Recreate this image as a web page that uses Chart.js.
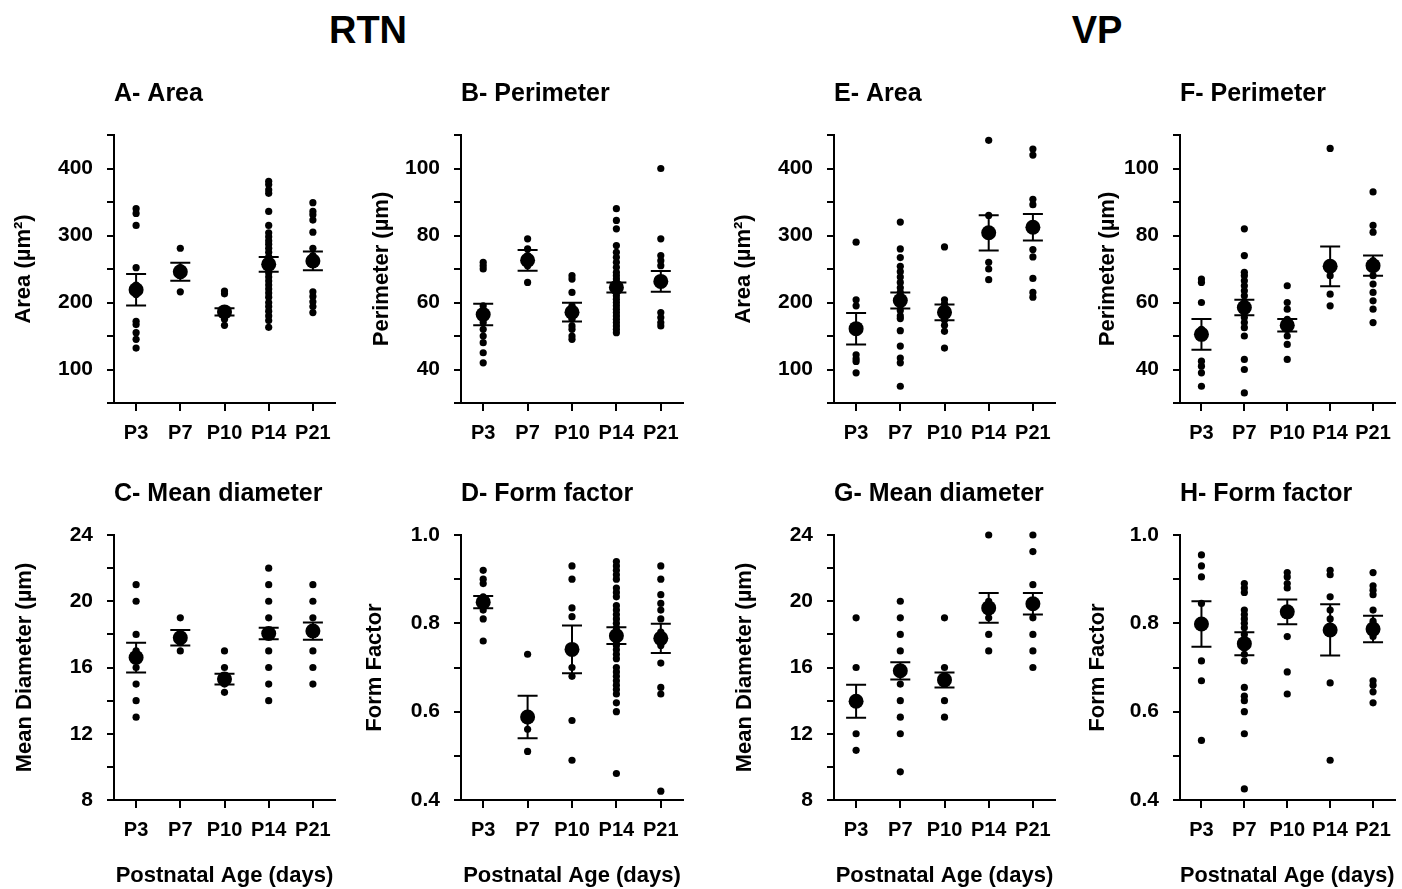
<!DOCTYPE html>
<html>
<head>
<meta charset="utf-8">
<script src="https://cdn.jsdelivr.net/npm/chart.js@4.4.1/dist/chart.umd.min.js"></script>
<style>
  html, body { margin: 0; padding: 0; background: #fff; overflow: hidden; }
  body { width: 1402px; height: 889px; position: relative; font-family: "Liberation Sans", Arial, sans-serif; }
  canvas { position: absolute; }
  .group { position: absolute; top: 11px; width: 200px; margin-left: -100px; text-align: center; font-weight: bold; font-size: 38px; line-height: 38px; color: #000; }
</style>
</head>
<body>
<div class="group" style="left:368px">RTN</div>
<div class="group" style="left:1097px">VP</div>

<canvas id="panel-a" width="345" height="380" style="left:0px;top:70px"></canvas>
<canvas id="panel-b" width="350" height="380" style="left:345px;top:70px"></canvas>
<canvas id="panel-e" width="370" height="380" style="left:695px;top:70px"></canvas>
<canvas id="panel-f" width="337" height="380" style="left:1065px;top:70px"></canvas>
<canvas id="panel-c" width="345" height="419" style="left:0px;top:470px"></canvas>
<canvas id="panel-d" width="350" height="419" style="left:345px;top:470px"></canvas>
<canvas id="panel-g" width="370" height="419" style="left:695px;top:470px"></canvas>
<canvas id="panel-h" width="337" height="419" style="left:1065px;top:470px"></canvas>

<script>
Chart.defaults.font.family = '"Liberation Sans", Arial, sans-serif';
Chart.defaults.color = "#000";

const ages = ["P3", "P7", "P10", "P14", "P21"];

// RTN - area (um2)
const rtnAreaCells = [
  [340, 333, 315, 252, 226, 212, 172, 167, 155, 145, 132],
  [281, 252, 240, 216],
  [217, 213, 190, 185, 180, 175, 166],
  [381, 376, 368, 363, 336, 315, 304, 298, 292, 287, 281, 275, 268, 262, 255, 250, 244, 238, 232, 226, 220, 214, 208, 200, 194, 187, 180, 173, 163],
  [349, 336, 331, 323, 305, 281, 270, 216, 209, 201, 194, 185],
];
const rtnAreaMean = [219, 246, 186, 257, 262];
const rtnAreaSem = [23.5, 13.5, 5.3, 11, 14];

// RTN - perimeter (um)
const rtnPerimCells = [
  [72, 71, 70, 59, 56, 54, 52, 50, 48, 45, 42],
  [79, 76, 74, 72, 71, 66],
  [68, 67, 63, 59, 57, 55, 53, 52, 50, 49],
  [88, 84.5, 82, 77, 75, 73.5, 72, 70.5, 69, 68, 67, 66, 65, 64, 63, 62, 61, 60, 59, 58, 57, 56, 55, 54, 53, 52, 51],
  [100, 79, 74, 72.5, 71, 66, 57, 55.5, 54, 53],
];
const rtnPerimMean = [56.4, 72.6, 57.1, 64.5, 66.3];
const rtnPerimSem = [3.2, 3.1, 2.8, 1.5, 3.1];

// RTN - mean diameter (um)
const rtnDiamCells = [
  [21, 20, 18, 17, 16, 15, 14, 13],
  [19, 18, 17.5, 17],
  [17, 16, 15.5, 15, 14.5],
  [22, 21, 20, 19, 18, 17, 16, 15, 14],
  [21, 20, 19, 18, 17, 16, 15],
];
const rtnDiamMean = [16.6, 17.8, 15.3, 18.05, 18.2];
const rtnDiamSem = [0.9, 0.47, 0.33, 0.35, 0.52];

// RTN - form factor
const rtnFormCells = [
  [0.92, 0.9, 0.89, 0.86, 0.85, 0.84, 0.83, 0.81, 0.76],
  [0.73, 0.56, 0.51],
  [0.93, 0.9, 0.835, 0.815, 0.74, 0.7, 0.68, 0.58, 0.49],
  [0.94, 0.93, 0.92, 0.91, 0.9, 0.88, 0.87, 0.86, 0.84, 0.83, 0.82, 0.81, 0.8, 0.79, 0.78, 0.77, 0.76, 0.75, 0.74, 0.73, 0.72, 0.7, 0.69, 0.68, 0.67, 0.66, 0.65, 0.64, 0.62, 0.6, 0.46],
  [0.93, 0.9, 0.865, 0.845, 0.83, 0.81, 0.78, 0.76, 0.75, 0.71, 0.655, 0.64, 0.42],
];
const rtnFormMean = [0.848, 0.588, 0.741, 0.772, 0.766];
const rtnFormSem = [0.014, 0.048, 0.054, 0.019, 0.033];

// VP - area (um2)
const vpAreaCells = [
  [290, 204, 195, 160, 122, 116, 112, 95],
  [320, 280, 267, 254, 246, 238, 230, 222, 215, 205, 196, 188, 180, 176, 158, 135, 117, 110, 75],
  [283, 204, 198, 190, 182, 174, 166, 157, 132],
  [442, 330, 300, 260, 250, 234],
  [429, 420, 354, 346, 310, 279, 268, 236, 215, 208],
];
const vpAreaMean = [161, 203, 185.3, 304, 312.3];
const vpAreaSem = [23.5, 12, 11.7, 26.3, 19.8];

// VP - perimeter (um)
const vpPerimCells = [
  [67, 66, 60, 52, 42.5, 41, 39, 35],
  [82, 74, 69, 68, 66.5, 65, 63.5, 62, 60, 58.5, 57, 55.5, 54, 52.5, 50, 43, 40, 33],
  [65, 60, 58, 55, 53.5, 52, 50, 47.5, 43],
  [106, 68, 62.5, 59],
  [93, 83, 81, 72.5, 68, 65.5, 63, 60.5, 58, 54],
];
const vpPerimMean = [50.5, 58.5, 53.2, 70.8, 71];
const vpPerimSem = [4.6, 2.3, 1.85, 5.95, 3];

// VP - mean diameter (um)
const vpDiamCells = [
  [19, 16, 14, 12, 11],
  [20, 19, 18, 17, 16, 15, 14, 13, 12, 9.7],
  [19, 16, 15, 14, 13],
  [24, 20, 19, 18, 17],
  [24, 23, 21, 20, 19, 18, 17, 16],
];
const vpDiamMean = [13.96, 15.8, 15.25, 19.6, 19.85];
const vpDiamSem = [1.0, 0.52, 0.45, 0.9, 0.65];

// VP - form factor
const vpFormCells = [
  [0.955, 0.93, 0.905, 0.845, 0.8, 0.715, 0.67, 0.535],
  [0.89, 0.88, 0.87, 0.83, 0.82, 0.81, 0.8, 0.79, 0.775, 0.76, 0.745, 0.73, 0.715, 0.655, 0.635, 0.625, 0.6, 0.55, 0.425],
  [0.915, 0.905, 0.89, 0.88, 0.83, 0.77, 0.69, 0.64],
  [0.92, 0.91, 0.86, 0.83, 0.81, 0.79, 0.665, 0.49],
  [0.915, 0.885, 0.875, 0.865, 0.83, 0.805, 0.78, 0.77, 0.67, 0.66, 0.645, 0.62],
];
const vpFormMean = [0.7985, 0.754, 0.826, 0.785, 0.787];
const vpFormSem = [0.0515, 0.026, 0.028, 0.058, 0.03];

// mean +/- SEM whiskers, drawn on top of the dots
const semBars = (means, sems) => ({
  id: "semBars",
  afterDatasetsDraw(chart) {
    const { ctx } = chart;
    const x = chart.scales.x;
    const y = chart.scales.y;
    ctx.save();
    ctx.strokeStyle = "#000";
    ctx.lineWidth = 2;
    means.forEach((m, i) => {
      const px = x.getPixelForValue(i);
      const hi = y.getPixelForValue(m + sems[i]);
      const lo = y.getPixelForValue(m - sems[i]);
      ctx.beginPath();
      ctx.moveTo(px, hi);
      ctx.lineTo(px, lo);
      ctx.moveTo(px - 10, hi);
      ctx.lineTo(px + 10, hi);
      ctx.moveTo(px - 10, lo);
      ctx.lineTo(px + 10, lo);
      ctx.stroke();
    });
    ctx.restore();
  },
});

function makePanel(id, o) {
  const dots = [];
  o.cells.forEach((list, i) => {
    list.forEach((v) => dots.push({ x: ages[i], y: v }));
  });

  new Chart(document.getElementById(id), {
    type: "line",
    data: {
      labels: ages,
      datasets: [
        {
          data: dots,
          showLine: false,
          pointRadius: 3.6,
          pointHoverRadius: 3.6,
          pointBorderWidth: 0,
          pointBackgroundColor: "#000",
          clip: false,
        },
        {
          data: o.mean,
          showLine: false,
          pointRadius: 7.5,
          pointHoverRadius: 7.5,
          pointBorderWidth: 0,
          pointBackgroundColor: "#000",
          clip: false,
        },
      ],
    },
    options: {
      responsive: false,
      animation: false,
      events: [],
      layout: { padding: { left: 0, right: o.padRight, top: 0, bottom: 0 } },
      plugins: {
        legend: { display: false },
        tooltip: { enabled: false },
        title: {
          display: true,
          text: o.title,
          align: "start",
          fullSize: false,
          color: "#000",
          font: { size: 25, weight: "bold" },
          padding: { top: 9, bottom: 26 },
        },
      },
      scales: {
        x: {
          type: "category",
          labels: ages,
          offset: true,
          border: { color: "#000", width: 2 },
          grid: {
            offset: false,
            drawOnChartArea: false,
            tickLength: 8,
            color: "#000",
            lineWidth: 2,
          },
          ticks: {
            color: "#000",
            font: { size: 20, weight: "bold" },
            padding: 10,
            autoSkip: false,
            maxRotation: 0,
          },
          title: {
            display: o.bottom,
            text: "Postnatal Age (days)",
            color: "#000",
            font: { size: 22, weight: "bold" },
            padding: { top: 0, bottom: 0 },
          },
          afterFit: (s) => {
            s.height = o.bottom ? 89 : 47;
          },
        },
        y: {
          min: o.min,
          max: o.max,
          border: { color: "#000", width: 2 },
          grid: {
            drawOnChartArea: false,
            tickLength: 7,
            color: "#000",
            lineWidth: 2,
          },
          ticks: {
            stepSize: o.step,
            autoSkip: false,
            padding: 14,
            color: "#000",
            font: { size: 21, weight: "bold" },
            callback: (v) => {
              const k = v / o.labelStep;
              return Math.abs(k - Math.round(k)) < 1e-6 ? v.toFixed(o.decimals) : "";
            },
          },
          title: {
            display: true,
            text: o.yTitle,
            color: "#000",
            font: { size: 22, weight: "bold" },
            padding: { top: o.yTitlePad, bottom: 0 },
          },
          afterFit: (s) => {
            s.width = o.yWidth;
          },
        },
      },
    },
    plugins: [semBars(o.mean, o.sem)],
  });
}

const areaAxis = { min: 50, max: 450, step: 50, labelStep: 100, decimals: 0, yTitle: "Area (\u00b5m\u00b2)" };
const perimAxis = { min: 30, max: 110, step: 10, labelStep: 20, decimals: 0, yTitle: "Perimeter (\u00b5m)" };
const diamAxis = { min: 8, max: 24, step: 2, labelStep: 4, decimals: 0, yTitle: "Mean Diameter (\u00b5m)" };
const formAxis = { min: 0.4, max: 1.0, step: 0.1, labelStep: 0.2, decimals: 1, yTitle: "Form Factor" };

const col1 = { yWidth: 114, padRight: 10 };
const col2 = { yWidth: 116, padRight: 12 };
const col3 = { yWidth: 139, padRight: 10 };
const col4 = { yWidth: 115, padRight: 2 };

makePanel("panel-a", { ...areaAxis, ...col1, yTitlePad: 11, bottom: false, title: "A- Area",
  cells: rtnAreaCells, mean: rtnAreaMean, sem: rtnAreaSem });
makePanel("panel-b", { ...perimAxis, ...col2, yTitlePad: 24, bottom: false, title: "B- Perimeter",
  cells: rtnPerimCells, mean: rtnPerimMean, sem: rtnPerimSem });
makePanel("panel-e", { ...areaAxis, ...col3, yTitlePad: 36, bottom: false, title: "E- Area",
  cells: vpAreaCells, mean: vpAreaMean, sem: vpAreaSem });
makePanel("panel-f", { ...perimAxis, ...col4, yTitlePad: 30, bottom: false, title: "F- Perimeter",
  cells: vpPerimCells, mean: vpPerimMean, sem: vpPerimSem });
makePanel("panel-c", { ...diamAxis, ...col1, yTitlePad: 12, bottom: true, title: "C- Mean diameter",
  cells: rtnDiamCells, mean: rtnDiamMean, sem: rtnDiamSem });
makePanel("panel-d", { ...formAxis, ...col2, yTitlePad: 17, bottom: true, title: "D- Form factor",
  cells: rtnFormCells, mean: rtnFormMean, sem: rtnFormSem });
makePanel("panel-g", { ...diamAxis, ...col3, yTitlePad: 37, bottom: true, title: "G- Mean diameter",
  cells: vpDiamCells, mean: vpDiamMean, sem: vpDiamSem });
makePanel("panel-h", { ...formAxis, ...col4, yTitlePad: 20, bottom: true, title: "H- Form factor",
  cells: vpFormCells, mean: vpFormMean, sem: vpFormSem });
</script>
</body>
</html>
